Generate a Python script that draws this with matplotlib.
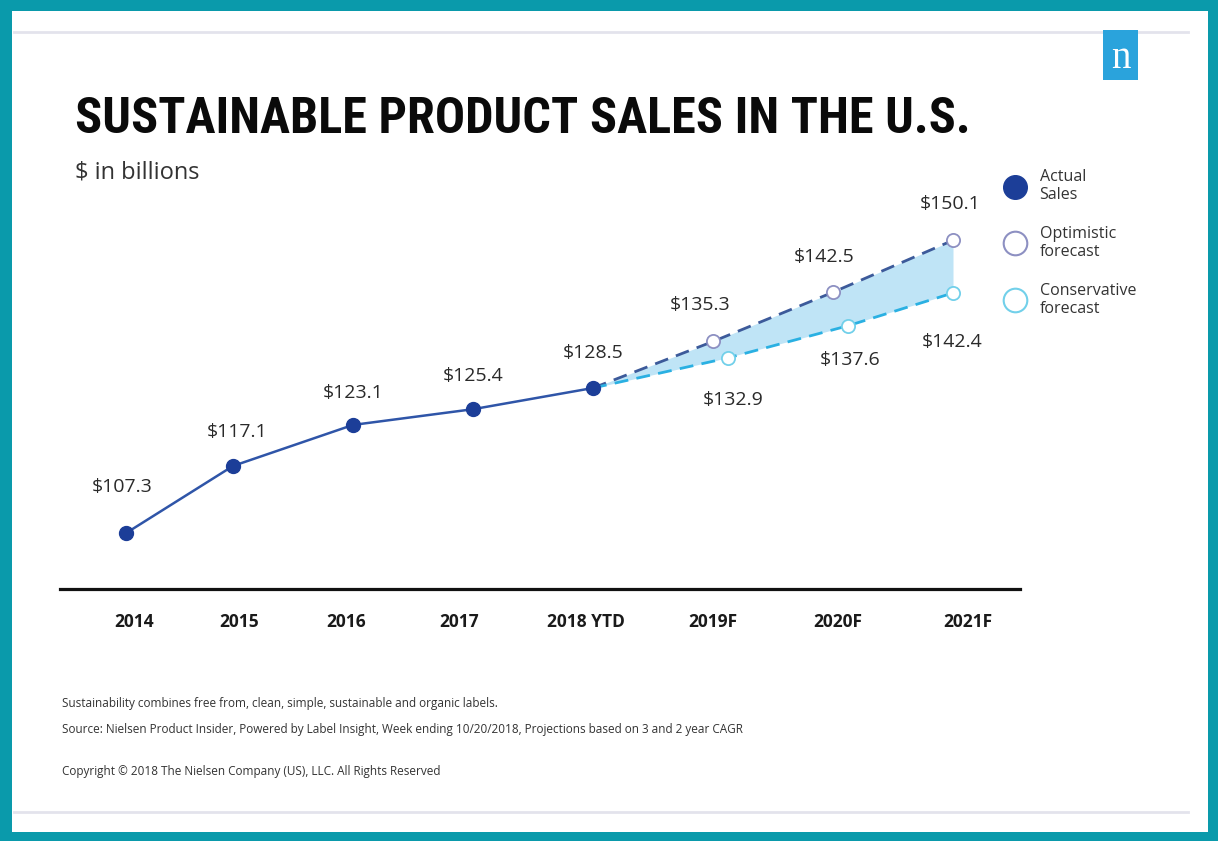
import numpy as np
import matplotlib.pyplot as plt
from matplotlib.patches import Rectangle
from matplotlib.lines import Line2D

# Datos
years = ["2014", "2015", "2016", "2017", "2018 YTD", "2019F", "2020F", "2021F"]
actual = [107.3, 117.1, 123.1, 125.4, 128.5]
optimistic = [128.5, 135.3, 142.5, 150.1]
conservative = [128.5, 132.9, 137.6, 142.4]

# Posiciones en el eje x (indices de los años, con pequeños ajustes de diseño)
x_act = np.arange(5) + np.array([0.11, 0, 0, 0, 0])
x_opt = np.arange(4, 8)
x_con = np.arange(4, 8) + np.array([0, 0.125, 0.125, 0])
tick_x = [0.175, 1.05, 1.94, 2.88, 3.94, 5.0, 6.04, 7.125]

W, H = 1218, 841
fig = plt.figure(figsize=(W / 100, H / 100), dpi=100)
fig.patch.set_facecolor("#0a9aab")

def fx(px):
    return px / W

def fy(py):
    return (H - py) / H

# Fondo blanco y lineas grises
fig.add_artist(Rectangle((fx(12), fy(832)), fx(1208) - fx(12), fy(11) - fy(832),
                         transform=fig.transFigure, facecolor="white", edgecolor="none", zorder=0))
for yy in (31.5, 811.5):
    fig.add_artist(Line2D([fx(14), fx(1188)], [fy(yy), fy(yy)], transform=fig.transFigure,
                          color="#e3e3ec", lw=2, zorder=1))

# Logo
fig.add_artist(Rectangle((fx(1103), fy(80)), fx(35), 50 / H, transform=fig.transFigure,
                         facecolor="#2aa3dc", edgecolor="none", zorder=2))
fig.text(fx(1120.5), fy(58), "n", color="white", fontsize=28, family="Liberation Serif",
         ha="center", va="center", zorder=3)

# Titulo (ajustado al ancho)
title = fig.text(fx(75), fy(133), "SUSTAINABLE PRODUCT SALES IN THE U.S.",
                 family=["Roboto Condensed", "Liberation Sans Narrow", "DejaVu Sans"],
                 fontstretch="condensed", fontweight="bold",
                 fontsize=40, color="#0a0a0a", ha="left", va="baseline")
r = fig.canvas.get_renderer()
w = title.get_window_extent(r).width
title.set_fontsize(40 * 892 / w)

fig.text(fx(75), fy(172), "$ in billions", family="Open Sans", fontsize=17,
         color="#333333", ha="left", va="center")

# Ejes
ax = fig.add_axes([fx(60), fy(589), fx(1020) - fx(60), fy(150) - fy(589)])
ax.set_facecolor("none")
ax.set_xlim(-0.4417, 7.5583)
ax.set_ylim(99.11, 163.3)
for s in ("top", "left", "right"):
    ax.spines[s].set_visible(False)
ax.spines["bottom"].set_linewidth(2.3)
ax.spines["bottom"].set_color("#111111")
ax.set_yticks([])
ax.set_xticks(tick_x)
ax.set_xticklabels(years, family="Open Sans", fontweight="bold", fontsize=12.5, color="#1a1a1a")
ax.tick_params(axis="x", length=0, pad=17)

# Area entre pronosticos
ax.fill_between(x_opt, optimistic, np.interp(x_opt, x_con, conservative),
                color="#bfe4f6", lw=0, zorder=1)

ax.plot(x_opt, optimistic, color="#3c5a9a", lw=2, dashes=(5, 3), zorder=2)
ax.plot(x_con, conservative, color="#2ab0e2", lw=2, dashes=(5, 3), zorder=2)
ax.plot(x_act, actual, color="#2f55a8", lw=1.8, zorder=3)

ax.plot(x_opt[1:], optimistic[1:], "o", ms=9.5, mfc="white", mec="#8d90c2", mew=1.3, zorder=4)
ax.plot(x_con[1:], conservative[1:], "o", ms=9.5, mfc="white", mec="#72d0ea", mew=1.3, zorder=4)
ax.plot(x_act, actual, "o", ms=10, color="#1c3e98", zorder=5)

# Etiquetas de valores
lab_kw = dict(textcoords="offset pixels", ha="center", va="center",
              family="Open Sans", fontsize=14, color="#2a2a2a")
act_off = [(-4, 46), (4, 34), (0, 32), (0, 33), (0, 35)]
opt_off = [(-13, 36), (-9, 35), (-3, 36)]
con_off = [(5, -42), (2, -34), (-1, -49)]
for x, v, o in zip(x_act, actual, act_off):
    ax.annotate(f"${v}", (x, v), xytext=o, **lab_kw)
for x, v, o in zip(x_opt[1:], optimistic[1:], opt_off):
    ax.annotate(f"${v}", (x, v), xytext=o, **lab_kw)
for x, v, o in zip(x_con[1:], conservative[1:], con_off):
    ax.annotate(f"${v}", (x, v), xytext=o, **lab_kw)

# Leyenda
handles = [
    Line2D([], [], ls="none", marker="o", ms=17, color="#1c3e98"),
    Line2D([], [], ls="none", marker="o", ms=17, mfc="white", mec="#8d90c2", mew=1.5),
    Line2D([], [], ls="none", marker="o", ms=17, mfc="white", mec="#72d0ea", mew=1.5),
]
labels = ["Actual\nSales", "Optimistic\nforecast", "Conservative\nforecast"]
fig.legend(handles, labels, loc="upper left", bbox_to_anchor=(fx(994), fy(161)),
           frameon=False, prop={"family": "Open Sans", "size": 11.5},
           labelspacing=1.4, handletextpad=0.75, borderpad=0, handlelength=1.6,
           labelcolor="#333333")

# Notas
note_kw = dict(family="Open Sans", fontsize=8.45, color="#333333", ha="left", va="center")
fig.text(fx(62), fy(704), "Sustainability combines free from, clean, simple, sustainable and organic labels.", **note_kw)
fig.text(fx(62), fy(730), "Source: Nielsen Product Insider, Powered by Label Insight, Week ending 10/20/2018, Projections based on 3 and 2 year CAGR", **note_kw)
fig.text(fx(62), fy(771), "Copyright \u00a9 2018 The Nielsen Company (US), LLC. All Rights Reserved", **note_kw)

plt.savefig("out.png", dpi=100, facecolor=fig.get_facecolor())
